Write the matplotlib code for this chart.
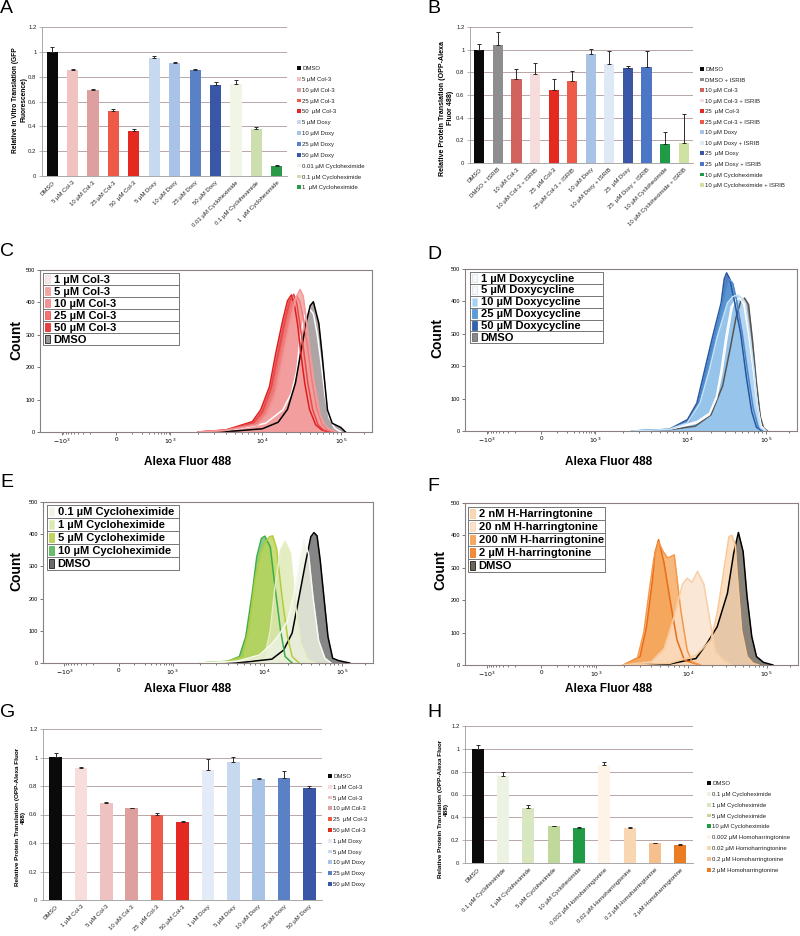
import numpy as np
import matplotlib
matplotlib.use('Agg')
import matplotlib.pyplot as plt
from matplotlib.patches import Patch, Rectangle

plt.rcParams['font.family'] = ['Liberation Sans', 'DejaVu Sans']

# ---------------- bar chart data (A, B, G, H) ----------------
a_labels = ['DMSO', '5 µM Col-3', '10 µM Col-3', '25 µM Col-3', '50  µM Col-3',
            '5 µM Doxy', '10 µM Doxy', '25 µM Doxy', '50 µM Doxy',
            '0.01 µM Cycloheximide', '0.1 µM Cycloheximide', '1  µM Cycloheximide']
a_values = [1.0, 0.853, 0.695, 0.527, 0.363, 0.953, 0.91, 0.852, 0.731, 0.74, 0.38, 0.084]
a_errors = [0.04, 0.006, 0.007, 0.014, 0.014, 0.01, 0.007, 0.008, 0.03, 0.03, 0.012, 0.003]
a_colors = ['#0a0a0a', '#f0c2c0', '#dea09e', '#ee5a48', '#e42a20', '#c6d9ef', '#a8c3e5',
            '#5a80c6', '#3a56a6', '#f1f5e6', '#cddfae', '#2b9a48']

b_labels = ['DMSO', 'DMSO + ISRIB', '10 µM Col-3', '10 µM Col-3 + ISRIB', '25  µM Col-3',
            '25 µM Col-3 + ISRIB', '10 µM Doxy', '10 µM Doxy + ISRIB', '25  µM Doxy',
            '25  µM Doxy + ISRIB', '10 µM Cycloheximide', '10 µM Cycloheximide + ISRIB']
b_values = [1.0, 1.045, 0.737, 0.784, 0.64, 0.723, 0.966, 0.87, 0.84, 0.85, 0.17, 0.176]
b_errors = [0.05, 0.11, 0.09, 0.10, 0.10, 0.09, 0.044, 0.115, 0.017, 0.135, 0.10, 0.257]
b_colors = ['#0a0a0a', '#8e8e8e', '#d2625e', '#f6dcdc', '#e42a20', '#ee5a48', '#a8c3e5',
            '#dfe9f6', '#3a56a6', '#4d77c6', '#1f9a45', '#cfe2a2']

g_labels = ['DMSO', '1 µM Col-3', '5 µM Col-3', '10 µM Col-3', '25  µM Col-3', '50 µM Col-3',
            '1 µM Doxy', '5 µM Doxy', '10 µM Doxy', '25 µM Doxy', '50 µM Doxy']
g_values = [1.003, 0.926, 0.68, 0.645, 0.6, 0.544, 0.914, 0.966, 0.851, 0.853, 0.785]
g_errors = [0.03, 0.008, 0.005, 0.004, 0.01, 0.012, 0.075, 0.035, 0.005, 0.05, 0.012]
g_colors = ['#0a0a0a', '#f7dedd', '#eec2c0', '#dea09e', '#ee5a48', '#e42a20', '#e3ebf6',
            '#c6d9ef', '#a8c3e5', '#5a80c6', '#3a56a6']

h_labels = ['DMSO', '0.1 µM Cycloheximide', '1 µM Cycloheximide', '5 µM Cycloheximide',
            '10 µM Cycloheximide', '0.002 µM Homoharringtonine', '0.02 µM Homoharringtonine',
            '0.2 µM Homoharringtonine', '2 µM Homoharringtonine']
h_values = [1.002, 0.761, 0.479, 0.32, 0.305, 0.857, 0.308, 0.174, 0.16]
h_errors = [0.03, 0.035, 0.025, 0.005, 0.012, 0.03, 0.005, 0.005, 0.004]
h_colors = ['#0a0a0a', '#edf3e2', '#d8e7c0', '#c0d89c', '#1f9a45', '#fdf3e6', '#f8d6b2',
            '#f6c08e', '#ec7c22']

# ---------------- flow histograms (C-F): log10 intensity, count ----------------
c_names = ['1 µM Col-3', '5 µM Col-3', '10 µM Col-3', '25 µM Col-3', '50 µM Col-3', 'DMSO']
c_logs = [[3.3, 3.6, 3.86, 4.04, 4.26, 4.37, 4.44, 4.48, 4.54, 4.6, 4.65, 4.7, 4.75, 4.8, 4.85, 4.92, 5.0],
          [3.3, 3.6, 3.95, 4.06, 4.17, 4.26, 4.35, 4.42, 4.48, 4.52, 4.56, 4.61, 4.67, 4.74, 4.8, 4.86, 4.95],
          [3.3, 3.6, 3.93, 4.03, 4.14, 4.23, 4.32, 4.39, 4.44, 4.48, 4.53, 4.58, 4.63, 4.69, 4.76, 4.83, 4.92],
          [3.3, 3.6, 3.9, 4.0, 4.11, 4.2, 4.29, 4.35, 4.4, 4.44, 4.48, 4.53, 4.58, 4.64, 4.71, 4.78, 4.87],
          [3.3, 3.6, 3.89, 3.98, 4.09, 4.17, 4.26, 4.32, 4.37, 4.41, 4.45, 4.49, 4.54, 4.6, 4.68, 4.76, 4.85],
          [3.3, 3.7, 4.0, 4.2, 4.32, 4.42, 4.5, 4.56, 4.61, 4.65, 4.72, 4.76, 4.8, 4.83, 4.89, 5.0, 5.06]]
c_counts = [[0, 4, 16, 27, 68, 119, 191, 294, 360, 380, 365, 300, 210, 110, 45, 12, 0],
            [0, 5, 22, 52, 115, 220, 330, 410, 440, 420, 346, 243, 140, 50, 20, 8, 0],
            [0, 5, 25, 58, 125, 230, 335, 400, 420, 400, 340, 255, 160, 75, 24, 6, 0],
            [0, 6, 28, 62, 135, 240, 345, 405, 425, 395, 330, 245, 150, 70, 22, 6, 0],
            [0, 6, 32, 68, 140, 243, 346, 405, 423, 390, 330, 243, 150, 70, 22, 6, 0],
            [0, 3, 10, 30, 70, 150, 260, 340, 390, 402, 335, 243, 140, 68, 27, 14, 0]]
c_fills = ['#fbe6e6', '#f4a3a3', '#f29292', '#ef7474', '#e84040', '#9c9696']
c_edges = ['#ffffff', '#f39a9a', '#ee7c7c', '#e84848', '#e01e1e', '#000000']
c_order = [0, 5, 4, 3, 2, 1]

d_names = ['1 µM Doxycycline', '5 µM Doxycycline', '10 µM Doxycycline', '25 µM Doxycycline',
           '50 µM Doxycycline', 'DMSO']
d_logs = [[3.4, 3.8, 4.12, 4.28, 4.37, 4.43, 4.49, 4.56, 4.62, 4.67, 4.72, 4.78, 4.84, 4.89, 4.94, 5.0],
          [3.4, 3.8, 4.12, 4.28, 4.37, 4.44, 4.5, 4.57, 4.63, 4.67, 4.72, 4.78, 4.84, 4.89, 4.94, 5.0],
          [3.4, 3.8, 4.0, 4.16, 4.28, 4.38, 4.51, 4.58, 4.64, 4.7, 4.74, 4.8, 4.85, 4.89, 4.93, 5.0],
          [3.4, 3.8, 4.02, 4.14, 4.24, 4.34, 4.45, 4.5, 4.53, 4.58, 4.63, 4.7, 4.77, 4.84, 4.9, 4.96],
          [3.4, 3.8, 4.0, 4.12, 4.22, 4.32, 4.43, 4.47, 4.5, 4.54, 4.6, 4.68, 4.75, 4.82, 4.88, 4.95],
          [3.4, 3.8, 4.1, 4.3, 4.45, 4.55, 4.62, 4.68, 4.73, 4.78, 4.83, 4.88, 4.93, 4.97, 5.02]]
d_counts = [[0, 5, 29, 55, 106, 188, 291, 384, 405, 410, 390, 300, 190, 80, 15, 0],
            [0, 5, 25, 50, 100, 180, 280, 380, 420, 425, 400, 310, 195, 85, 15, 0],
            [0, 5, 25, 86, 188, 290, 395, 415, 420, 410, 395, 290, 188, 86, 10, 0],
            [0, 5, 30, 86, 188, 290, 400, 450, 470, 455, 400, 300, 180, 70, 15, 0],
            [0, 5, 35, 86, 188, 290, 395, 470, 488, 470, 400, 300, 170, 60, 12, 0],
            [0, 4, 15, 50, 140, 260, 350, 400, 410, 390, 280, 150, 44, 10, 0]]
d_fills = ['#f2f8fd', '#f4f9fe', '#a6cff0', '#5b9bd5', '#2f62b2', '#8a8a8a']
d_edges = ['#ffffff', '#ffffff', '#c6e2f7', '#4a88cc', '#2a55a0', '#555555']
d_order = [5, 0, 1, 4, 3, 2]

e_names = ['0.1 µM Cycloheximide', '1 µM Cycloheximide', '5 µM Cycloheximide',
           '10 µM Cycloheximide', 'DMSO']
e_logs = [[3.3, 3.7, 3.95, 4.1, 4.2, 4.3, 4.38, 4.45, 4.51, 4.57, 4.63, 4.7, 4.78, 4.86],
          [3.3, 3.7, 3.9, 4.01, 4.08, 4.14, 4.21, 4.27, 4.34, 4.4, 4.47, 4.56, 4.65],
          [3.3, 3.6, 3.76, 3.83, 3.9, 3.96, 4.02, 4.07, 4.11, 4.16, 4.23, 4.3, 4.36, 4.45],
          [3.3, 3.6, 3.73, 3.8, 3.87, 3.92, 3.97, 4.01, 4.08, 4.14, 4.21, 4.27, 4.36],
          [3.3, 3.8, 4.1, 4.25, 4.36, 4.45, 4.53, 4.6, 4.64, 4.68, 4.72, 4.77, 4.82, 4.88, 4.95, 5.02, 5.1]]
e_counts = [[0, 5, 25, 60, 90, 130, 210, 310, 385, 340, 200, 70, 15, 0],
            [0, 5, 12, 20, 103, 237, 350, 378, 340, 186, 62, 10, 0],
            [0, 5, 20, 103, 258, 340, 376, 392, 395, 356, 206, 82, 20, 0],
            [0, 5, 20, 82, 216, 330, 387, 394, 360, 237, 103, 20, 0],
            [0, 3, 12, 40, 93, 206, 309, 392, 405, 395, 320, 200, 82, 15, 8, 4, 0]]
e_fills = ['#eef3e4', '#dde9b4', '#bcd55a', '#6cbf6a', '#6c6c6c']
e_edges = ['#f7faf0', '#e6efc4', '#b4cc3c', '#3fae4a', '#000000']
e_order = [4, 3, 2, 1, 0]

f_names = ['2 nM H-Harringtonine', '20 nM H-harringtonine', '200 nM H-harringtonine',
           '2 µM H-harringtonine', 'DMSO']
f_logs = [[3.3, 3.8, 4.1, 4.29, 4.37, 4.43, 4.52, 4.56, 4.6, 4.62, 4.68, 4.75, 4.83, 4.9],
          [3.3, 3.6, 3.74, 3.85, 3.94, 3.99, 4.05, 4.12, 4.2, 4.29, 4.35, 4.45, 4.55],
          [3.3, 3.45, 3.52, 3.58, 3.63, 3.68, 3.73, 3.78, 3.85, 3.92, 3.99, 4.05, 4.15],
          [3.3, 3.48, 3.55, 3.61, 3.64, 3.68, 3.74, 3.81, 3.88, 3.96, 4.08, 4.15],
          [3.3, 3.8, 4.1, 4.24, 4.37, 4.5, 4.58, 4.64, 4.7, 4.75, 4.81, 4.87, 4.96, 5.08]]
f_counts = [[0, 5, 30, 77, 160, 253, 397, 400, 370, 294, 108, 26, 5, 0],
            [0, 10, 50, 150, 250, 268, 255, 289, 250, 120, 40, 15, 0],
            [0, 20, 100, 230, 330, 380, 350, 330, 340, 170, 46, 10, 0],
            [0, 26, 119, 253, 345, 387, 314, 191, 77, 15, 5, 0],
            [0, 3, 20, 67, 118, 221, 345, 409, 350, 211, 88, 26, 8, 0]]
f_fills = ['#fcd8b4', '#fbe2cc', '#f6a95e', '#f28a36', '#6f665a']
f_edges = ['#f9c896', '#f8cfa6', '#f4984a', '#ea6c18', '#000000']
f_order = [4, 3, 2, 1, 0]

W, H = 800, 936
fig = plt.figure(figsize=(W / 100, H / 100), dpi=100)


def box(l, t, r, b):
    return [l / W, 1 - b / H, (r - l) / W, (b - t) / H]


def ftext(x, y, s, **kw):
    fig.text(x / W, 1 - y / H, s, **kw)


def bar_panel(rect, labels, values, errors, colors, width, fs, leg_xy, spacing):
    ax = fig.add_axes(box(*rect))
    x = np.arange(len(values))
    ax.bar(x, values, width=width, color=colors, zorder=2)
    ax.errorbar(x, values, yerr=[np.zeros(len(errors)), errors], fmt='none',
                ecolor='#2a2a2a', elinewidth=0.7, capsize=1.5, capthick=0.7, zorder=3)
    ax.set_ylim(0, 1.2)
    ax.set_xlim(-0.5, len(values) - 0.5)
    ax.set_yticks(np.arange(0, 1.21, 0.2))
    ax.set_yticklabels(['0', '0.2', '0.4', '0.6', '0.8', '1', '1.2'], fontsize=fs)
    ax.yaxis.grid(True, color='#b8a6a6', lw=0.7)
    ax.set_axisbelow(True)
    ax.set_xticks(x)
    ax.set_xticklabels(labels, rotation=45, ha='right', rotation_mode='anchor', fontsize=fs)
    for s in ['top', 'right']:
        ax.spines[s].set_visible(False)
    for s in ['left', 'bottom']:
        ax.spines[s].set_color('#9a9a9a')
        ax.spines[s].set_linewidth(0.6)
    ax.tick_params(axis='y', length=2, width=0.5, color='#9a9a9a', pad=2, labelcolor='#222222')
    ax.tick_params(axis='x', length=0, pad=3, labelcolor='#222222')
    handles = [Patch(facecolor=c, label=l) for c, l in zip(colors, labels)]
    fig.legend(handles=handles, loc='upper left',
               bbox_to_anchor=(leg_xy[0] / W, 1 - leg_xy[1] / H), frameon=False,
               fontsize=fs, handlelength=0.6, handleheight=0.6, handletextpad=0.3,
               labelspacing=spacing, borderpad=0, borderaxespad=0, labelcolor='#222222')
    return ax


# biexponential-like display of the flow axis: tick values and where they sit
anchor_vals = np.array([-1e4, -1e3, 0, 1e3, 1e4, 1e5, 1e6])
anchor_pos = np.array([-0.1, 0.065, 0.229, 0.393, 0.670, 0.906, 1.14])
anchor_L = np.arcsinh(anchor_vals / 100)


def fwd(v):
    return np.interp(np.arcsinh(np.asarray(v, float) / 100), anchor_L, anchor_pos)


def inv(u):
    return 100 * np.sinh(np.interp(np.asarray(u, float), anchor_pos, anchor_L))


minor_x = ([-k * 100 for k in range(2, 10)] + [k * 100 for k in range(1, 10)]
           + [k * 1e3 for k in range(2, 10)] + [k * 1e4 for k in range(2, 10)] + [2e5])


def flow_panel(rect, names, logs, counts, fills, edges, order, leg, count_xy, xl_xy):
    ax = fig.add_axes(box(*rect))
    ax.set_xscale('function', functions=(fwd, inv))
    ax.set_xlim(inv(0.0), inv(1.0))
    ax.set_ylim(0, 500)
    for i in order:
        ax.fill_between(10 ** np.array(logs[i]), 0, counts[i], color=fills[i],
                        alpha=0.82, lw=0, zorder=2)
    for i in order:
        ax.plot(10 ** np.array(logs[i]), counts[i], color=edges[i], lw=1.1, zorder=3)
    ax.set_xticks([-1e3, 0, 1e3, 1e4, 1e5])
    ax.set_xticklabels([r'$-10^3$', '0', r'$10^3$', r'$10^4$', r'$10^5$'], fontsize=4.5)
    ax.set_xticks(minor_x, minor=True)
    ax.set_yticks(range(0, 501, 100))
    ax.set_yticklabels([str(v) for v in range(0, 501, 100)], fontsize=4)
    ax.tick_params(which='both', length=2, width=0.5, pad=1.5, color='#444444')
    ax.tick_params(which='minor', length=1.2)
    for s in ax.spines.values():
        s.set_color('#8a8080')
        s.set_linewidth(0.8)
    # legend drawn as a small table
    left, top, width, row_h = leg
    n = len(names)
    ax.add_patch(Rectangle((left, top - n * row_h), width, n * row_h, transform=ax.transAxes,
                           fc='white', ec='#777777', lw=0.6, zorder=5))
    for i, name in enumerate(names):
        y0 = top - (i + 1) * row_h
        ax.add_patch(Rectangle((left, y0), width, row_h, transform=ax.transAxes,
                               fill=False, ec='#777777', lw=0.6, zorder=6))
        edge = '#dddddd' if edges[i] == '#ffffff' else edges[i]
        ax.add_patch(Rectangle((left + 0.006, y0 + row_h * 0.15), 0.016, row_h * 0.7,
                               transform=ax.transAxes, fc=fills[i], ec=edge, lw=0.5, zorder=7))
        ax.text(left + 0.032, y0 + row_h * 0.47, name, transform=ax.transAxes, fontsize=8,
                fontweight='bold', va='center', ha='left', zorder=7)
    ftext(count_xy[0], count_xy[1], 'Count', rotation=90, fontsize=10, fontweight='bold',
          ha='center', va='center')
    ftext(xl_xy[0], xl_xy[1], 'Alexa Fluor 488', fontsize=8.5, fontweight='bold',
          ha='center', va='center')
    return ax


# ---------------- panels ----------------
bar_panel((42, 27, 287, 176), a_labels, a_values, a_errors, a_colors, 0.55, 4.3, (297, 66), 0.98)
ftext(20, 100, 'Relative In Vitro Translation (GFP\nFluorescence)', rotation=90, fontsize=4.8,
      fontweight='bold', ha='center', va='center', multialignment='center')

bar_panel((470, 27, 693, 163), b_labels, b_values, b_errors, b_colors, 0.55, 4.3, (700, 67), 0.93)
ftext(447, 108, 'Relative Protein Translation (OPP-Alexa\nFluor 488)', rotation=90, fontsize=5.1,
      fontweight='bold', ha='center', va='center', multialignment='center')

flow_panel((40, 270, 372, 432), c_names, c_logs, c_counts, c_fills, c_edges, c_order,
           (0.009, 0.98, 0.41, 0.074), (16, 340), (188, 462))
flow_panel((465, 269, 797, 431), d_names, d_logs, d_counts, d_fills, d_edges, d_order,
           (0.015, 0.98, 0.40, 0.073), (437, 338), (609, 462))
flow_panel((43, 502, 373, 663), e_names, e_logs, e_counts, e_fills, e_edges, e_order,
           (0.012, 0.98, 0.40, 0.081), (16, 571), (188, 689))
flow_panel((465, 503, 798, 665), f_names, f_logs, f_counts, f_fills, f_edges, f_order,
           (0.009, 0.975, 0.41, 0.08), (440, 570), (609, 689))

bar_panel((43, 729, 322, 900), g_labels, g_values, g_errors, g_colors, 0.5, 4.3, (328, 774), 0.97)
ftext(20, 817, 'Relative Protein Translation (OPP-Alexa Fluor\n488)', rotation=90, fontsize=4.6,
      fontweight='bold', ha='center', va='center', multialignment='center')

bar_panel((465, 726, 693, 863), h_labels, h_values, h_errors, h_colors, 0.47, 4.3, (707, 781), 0.98)
ftext(443, 809, 'Relative Protein Translation (OPP-Alexa Fluor\n488)', rotation=90, fontsize=4.6,
      fontweight='bold', ha='center', va='center', multialignment='center')

for letter, (x, y) in zip('ABCDEFGH', [(0, 0), (427, 0), (0, 243), (427, 246), (0, 474),
                                      (427, 478), (0, 704), (427, 704)]):
    ftext(x, y, letter, fontsize=14, ha='left', va='top')

fig.savefig('out.png', dpi=100)
